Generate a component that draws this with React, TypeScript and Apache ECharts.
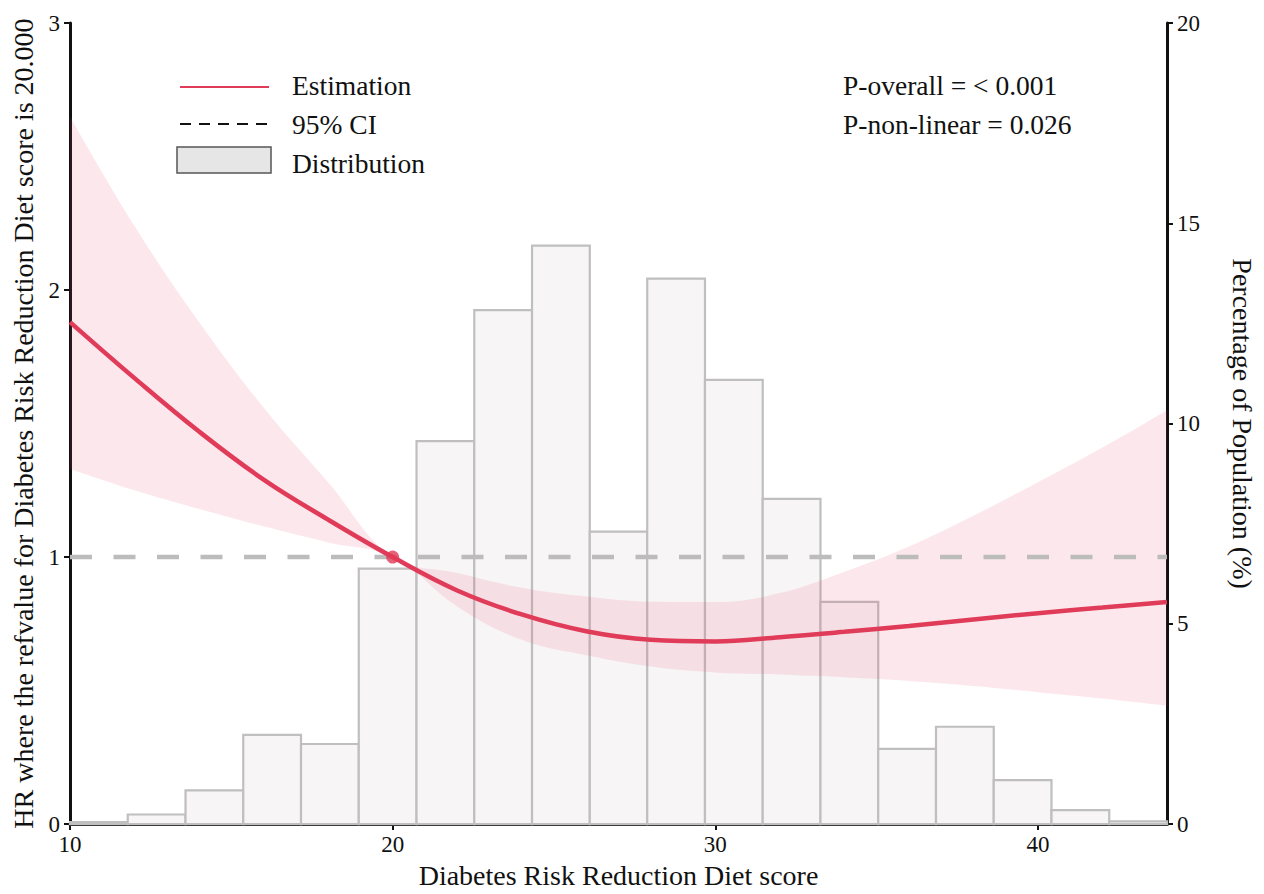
import React, { useEffect, useRef } from "react";
import * as echarts from "echarts";

const xTicks = [10, 20, 30, 40];
const binEdges = [10, 11.79, 13.58, 15.37, 17.16, 18.95, 20.74, 22.53, 24.32, 26.11, 27.89, 29.68, 31.47, 33.26, 35.05, 36.84, 38.63, 40.42, 42.21, 44];
const binPct = [0.05, 0.24, 0.84, 2.23, 2.0, 6.38, 9.56, 12.83, 14.44, 7.3, 13.62, 11.09, 8.12, 5.55, 1.88, 2.43, 1.1, 0.35, 0.07];

const curveX = [10, 12, 14, 16, 18, 20, 22, 24, 26, 28, 30, 32, 34, 36, 38, 40, 42, 44];
const estimate = [1.88, 1.67, 1.47, 1.29, 1.14, 1.0, 0.875, 0.785, 0.722, 0.69, 0.684, 0.7, 0.72, 0.742, 0.766, 0.79, 0.811, 0.832];
const ciUpper = [2.65, 2.24, 1.88, 1.56, 1.28, 1.0, 0.94, 0.885, 0.852, 0.833, 0.832, 0.865, 0.945, 1.04, 1.155, 1.28, 1.41, 1.55];
const ciLower = [1.33, 1.25, 1.18, 1.115, 1.055, 1.0, 0.815, 0.69, 0.632, 0.59, 0.568, 0.56, 0.55, 0.536, 0.517, 0.494, 0.47, 0.443];
const refPoint = [20, 1];
const refLineX = [10, 44];

const FONT = "'Liberation Serif', 'Times New Roman', serif";
const RED = "#e03b58";

export default function App() {
  const ref = useRef<HTMLDivElement>(null);
  useEffect(() => {
    if (!ref.current) return;
    const chart = echarts.init(ref.current, null, { renderer: "svg" });
    const hist = binPct.map((v, i) => [binEdges[i], binEdges[i + 1], v]);
    const estData = curveX.map((x, i) => [x, estimate[i]]);
    const diff = ciUpper.map((u, i) => +(u - ciLower[i]).toFixed(4));
    const axisLabel = { color: "#111", fontFamily: FONT, fontSize: 23 };
    const nameStyle = { color: "#111", fontFamily: FONT, fontSize: 28 };
    const legendText = (text: string, x: number, y: number) => ({
      type: "text",
      x,
      y,
      style: { text, fontFamily: FONT, fontSize: 27.5, fill: "#111", textVerticalAlign: "middle" },
    });
    const option: any = {
      animation: false,
      backgroundColor: "#fff",
      textStyle: { fontFamily: FONT },
      grid: { left: 70, right: 89, top: 23, bottom: 61 },
      xAxis: [
        {
          type: "value",
          min: 10,
          max: 44,
          interval: 10,
          name: "Diabetes Risk Reduction Diet score",
          nameLocation: "middle",
          nameGap: 35,
          nameTextStyle: nameStyle,
          axisLine: { show: true, onZero: false, lineStyle: { color: "#111", width: 3 } },
          axisTick: { show: true, length: 6, lineStyle: { color: "#111", width: 2 } },
          axisLabel: { ...axisLabel, margin: 9, showMaxLabel: false },
          splitLine: { show: false },
        },
        {
          type: "category",
          data: curveX.map(String),
          boundaryGap: false,
          show: false,
        },
      ],
      yAxis: [
        {
          type: "value",
          min: 0,
          max: 3,
          interval: 1,
          name: "HR where the refvalue for Diabetes Risk Reduction Diet score is 20.000",
          nameLocation: "middle",
          nameGap: 29,
          nameTextStyle: nameStyle,
          axisLine: { show: true, lineStyle: { color: "#111", width: 3 } },
          axisTick: { show: true, length: 6, lineStyle: { color: "#111", width: 2 } },
          axisLabel: { ...axisLabel, margin: 10 },
          splitLine: { show: false },
        },
        {
          type: "value",
          min: 0,
          max: 20,
          interval: 5,
          position: "right",
          name: "Percentage of Population (%)",
          nameLocation: "middle",
          nameGap: 61,
          nameRotate: -90,
          nameTextStyle: nameStyle,
          axisLine: { show: true, lineStyle: { color: "#111", width: 3 } },
          axisTick: { show: true, length: 6, lineStyle: { color: "#111", width: 2 } },
          axisLabel: { ...axisLabel, margin: 10 },
          splitLine: { show: false },
        },
      ],
      series: [
        {
          type: "custom",
          xAxisIndex: 0,
          yAxisIndex: 1,
          z: 1,
          data: hist,
          encode: { x: [0, 1], y: 2 },
          renderItem: (params: any, api: any) => {
            const p0 = api.coord([api.value(0), api.value(2)]);
            const p1 = api.coord([api.value(1), 0]);
            return {
              type: "rect",
              shape: { x: p0[0], y: p0[1], width: p1[0] - p0[0], height: p1[1] - p0[1] },
              style: { fill: "#f7f5f6", stroke: "#bfbfbf", lineWidth: 2.2 },
            };
          },
        },
        {
          type: "line",
          xAxisIndex: 1,
          yAxisIndex: 0,
          stack: "ci",
          data: ciLower,
          smooth: 0.4,
          symbol: "none",
          lineStyle: { opacity: 0, width: 0 },
          z: 2,
        },
        {
          type: "line",
          xAxisIndex: 1,
          yAxisIndex: 0,
          stack: "ci",
          data: diff,
          smooth: 0.4,
          symbol: "none",
          lineStyle: { opacity: 0, width: 0 },
          areaStyle: { color: "rgba(232, 80, 110, 0.13)", opacity: 1 },
          z: 2,
        },
        {
          type: "line",
          data: refLineX.map((x) => [x, refPoint[1]]),
          symbol: "none",
          lineStyle: { color: "#bcbcbc", width: 4.5, type: [22, 21.5] },
          z: 3,
        },
        {
          type: "line",
          data: estData,
          smooth: 0.4,
          symbol: "none",
          lineStyle: { color: RED, width: 4.5 },
          z: 4,
        },
        {
          type: "scatter",
          data: [refPoint],
          symbolSize: 13,
          itemStyle: { color: RED },
          z: 5,
        },
      ],
      graphic: [
        { type: "line", shape: { x1: 180, y1: 87, x2: 269, y2: 87 }, style: { stroke: RED, lineWidth: 2 } },
        legendText("Estimation", 292, 85),
        { type: "line", shape: { x1: 180, y1: 124, x2: 269, y2: 124 }, style: { stroke: "#111", lineWidth: 2, lineDash: [11, 8] } },
        legendText("95% CI", 292, 124),
        { type: "rect", shape: { x: 177, y: 147, width: 94, height: 26 }, style: { fill: "#e6e6e6", stroke: "#555", lineWidth: 1.5 } },
        legendText("Distribution", 292, 163),
        legendText("P-overall = < 0.001", 843, 85),
        legendText("P-non-linear = 0.026", 843, 124),
      ],
    };
    chart.setOption(option);
    return () => chart.dispose();
  }, []);
  return <div ref={ref} style={{ position: "fixed", left: 0, top: 0, width: 1264, height: 894, background: "#fff" }} />;
}
